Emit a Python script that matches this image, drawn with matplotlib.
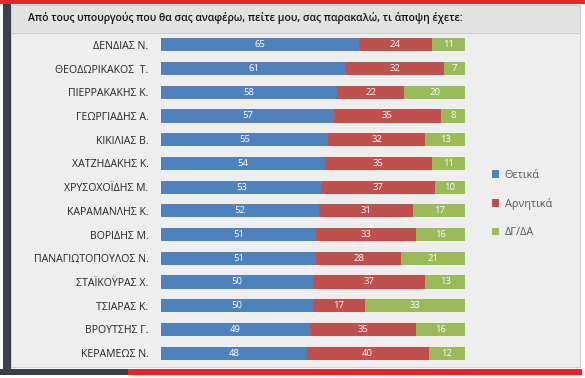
import matplotlib.pyplot as plt
from matplotlib.patches import Rectangle

names = ['ΔΕΝΔΙΑΣ Ν.', 'ΘΕΟΔΩΡΙΚΑΚΟΣ  Τ.', 'ΠΙΕΡΡΑΚΑΚΗΣ Κ.', 'ΓΕΩΡΓΙΑΔΗΣ Α.',
         'ΚΙΚΙΛΙΑΣ Β.', 'ΧΑΤΖΗΔΑΚΗΣ Κ.', 'ΧΡΥΣΟΧΟΪΔΗΣ Μ.', 'ΚΑΡΑΜΑΝΛΗΣ Κ.',
         'ΒΟΡΙΔΗΣ Μ.', 'ΠΑΝΑΓΙΩΤΟΠΟΥΛΟΣ Ν.', 'ΣΤΑΪΚΟΥΡΑΣ Χ.', 'ΤΣΙΑΡΑΣ Κ.',
         'ΒΡΟΥΤΣΗΣ Γ.', 'ΚΕΡΑΜΕΩΣ Ν.']
positive = [65, 61, 58, 57, 55, 54, 53, 52, 51, 51, 50, 50, 49, 48]
negative = [24, 32, 22, 35, 32, 35, 37, 31, 33, 28, 37, 17, 35, 40]
dkna = [11, 7, 20, 8, 13, 11, 10, 17, 16, 21, 13, 33, 16, 12]
series_names = ['Θετικά', 'Αρνητικά', 'ΔΓ/ΔΑ']
title = 'Από τους υπουργούς που θα σας αναφέρω, πείτε μου, σας παρακαλώ, τι άποψη έχετε:'

colors = ['#4f81bd', '#c0504d', '#9bbb59']

W, H = 585, 378
fig = plt.figure(figsize=(W / 100, H / 100), dpi=100)
fig.patch.set_facecolor('white')

# frame decorations (pixel coords -> figure fraction)
def rect(x0, y0, x1, y1, color, z=0, **kw):
    fig.add_artist(Rectangle((x0 / W, 1 - y1 / H), (x1 - x0) / W, (y1 - y0) / H,
                             transform=fig.transFigure, facecolor=color,
                             edgecolor=kw.pop('ec', 'none'), lw=kw.pop('lw', 0),
                             zorder=z, **kw))

rect(0, 0, 585, 4, '#e8252a')
rect(3, 4, 11, 372, '#3c3f4a')
rect(11, 5, 580, 33, '#e2e2e2', ec='#c8c8c8', lw=0.6)
rect(11, 33, 580, 367, '#eeeeee', ec='#c8c8c8', lw=0.6)
rect(0, 369, 128, 375, '#3c3f4a')
rect(128, 369, 582, 375, '#e8252a')

fig.text(28 / W, 1 - 18 / H, title, fontsize=7.45, va='center', ha='left',
         family='Open Sans', weight='semibold', color='#111111')

ax = fig.add_axes([161 / W, 1 - 365 / H, 304 / W, 332 / H])
ax.patch.set_alpha(0)
y = list(range(len(names)))
left = [0] * len(names)
for vals, c, lab in zip([positive, negative, dkna], colors, series_names):
    bars = ax.barh(y, vals, left=left, height=0.56, color=c, label=lab)
    for b, v in zip(bars, vals):
        ax.text(b.get_x() + b.get_width() / 2, b.get_y() + b.get_height() / 2, str(v),
                ha='center', va='center', color='white', fontsize=6.8, family='Open Sans')
    left = [l + v for l, v in zip(left, vals)]

ax.set_xlim(0, 100)
ax.set_ylim(len(names) - 0.5, -0.5)
ax.set_yticks(y)
ax.set_yticklabels(names, fontsize=7.6, family='Open Sans', color='#222222')
ax.tick_params(axis='y', length=0, pad=9)
ax.set_xticks([])
for s in ax.spines.values():
    s.set_visible(False)

ax.legend(loc='upper left', bbox_to_anchor=(482 / W, 1 - 160 / H), bbox_transform=fig.transFigure,
          frameon=False, prop={'family': 'Open Sans', 'size': 7.8}, labelcolor='#555555',
          handlelength=0.7, handleheight=0.7, handletextpad=0.5, labelspacing=1.6)

fig.savefig('out.png', dpi=100)
